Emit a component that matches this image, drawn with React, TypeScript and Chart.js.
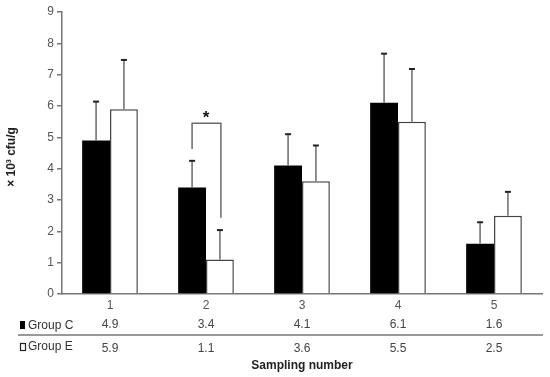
import React, { useEffect, useRef } from "react";
import { Chart, registerables } from "chart.js";

Chart.register(...registerables);

const categories = ["1", "2", "3", "4", "5"];
const groupC = [4.9, 3.4, 4.1, 6.1, 1.6];
const groupE = [5.9, 1.1, 3.6, 5.5, 2.5];
const errC = [1.24, 0.85, 1.0, 1.57, 0.69];
const errE = [1.57, 0.94, 1.14, 1.68, 0.76];
const seriesNames = ["Group C", "Group E"];
const yTicks = [0, 1, 2, 3, 4, 5, 6, 7, 8, 9];
const yTitle = "× 10³ cfu/g";
const xTitle = "Sampling number";
// significance bracket (category index 2 -> index 1), levels in data units
const sigIndex = 1;
const sigTop = 5.45;
const sigLeftBottom = 4.63;
const sigRightBottom = 2.43;
const sigMark = "*";

const FONT = "'Liberation Sans Narrow', 'Liberation Sans', Arial, sans-serif";
const FONT_B = "'Liberation Sans', Arial, sans-serif";

const extrasPlugin = {
  id: "extras",
  afterDatasetsDraw(chart: any) {
    const ctx = chart.ctx;
    const y = chart.scales.y;
    const errs = [errC, errE];
    const vals = [groupC, groupE];
    ctx.save();
    for (let d = 0; d < 2; d++) {
      const meta = chart.getDatasetMeta(d);
      meta.data.forEach((bar: any, i: number) => {
        const top = y.getPixelForValue(vals[d][i] + errs[d][i]);
        const base = y.getPixelForValue(vals[d][i]);
        ctx.strokeStyle = "#6a6a6a";
        ctx.lineWidth = 1.5;
        ctx.beginPath();
        ctx.moveTo(bar.x, base);
        ctx.lineTo(bar.x, top);
        ctx.stroke();
        ctx.strokeStyle = "#222";
        ctx.lineWidth = 2;
        ctx.beginPath();
        ctx.moveTo(bar.x - 3, top);
        ctx.lineTo(bar.x + 3, top);
        ctx.stroke();
      });
    }
    // significance bracket
    const bl = chart.getDatasetMeta(0).data[sigIndex];
    const br = chart.getDatasetMeta(1).data[sigIndex];
    const yt = y.getPixelForValue(sigTop);
    ctx.strokeStyle = "#6a6a6a";
    ctx.lineWidth = 1.5;
    ctx.beginPath();
    ctx.moveTo(bl.x, y.getPixelForValue(sigLeftBottom));
    ctx.lineTo(bl.x, yt);
    ctx.lineTo(br.x + 1, yt);
    ctx.lineTo(br.x + 1, y.getPixelForValue(sigRightBottom));
    ctx.stroke();
    ctx.fillStyle = "#111";
    ctx.font = "bold 17px " + FONT_B;
    ctx.textAlign = "center";
    ctx.textBaseline = "middle";
    ctx.fillText(sigMark, (bl.x + br.x) / 2, yt - 5);
    ctx.restore();
  },
  afterDraw(chart: any) {
    const ctx = chart.ctx;
    const x = chart.scales.x;
    const area = chart.chartArea;
    ctx.save();
    // y title
    ctx.save();
    ctx.translate(12, 157);
    ctx.rotate(-Math.PI / 2);
    ctx.fillStyle = "#222";
    ctx.font = "bold 12px " + FONT_B;
    ctx.textAlign = "center";
    ctx.textBaseline = "middle";
    ctx.fillText(yTitle, 0, 0);
    ctx.restore();
    // table
    const rowY = [325, 349];
    const vals = [groupC, groupE];
    ctx.font = "12px " + FONT;
    ctx.textBaseline = "middle";
    for (let r = 0; r < 2; r++) {
      // legend box
      if (r === 0) {
        ctx.fillStyle = "#000";
        ctx.fillRect(20, rowY[r] - 4, 5, 8);
      } else {
        ctx.strokeStyle = "#222";
        ctx.lineWidth = 1.2;
        ctx.strokeRect(20.5, rowY[r] - 5.5, 5, 7);
      }
      ctx.fillStyle = "#333";
      ctx.textAlign = "left";
      ctx.fillText(seriesNames[r], 28, rowY[r] + (r === 0 ? 1 : -2));
      ctx.fillStyle = "#444";
      ctx.textAlign = "center";
      vals[r].forEach((v, i) => {
        ctx.fillText(v.toFixed(1), x.getPixelForValue(i), rowY[r]);
      });
    }
    ctx.strokeStyle = "#777";
    ctx.lineWidth = 1.5;
    ctx.beginPath();
    ctx.moveTo(18, 335);
    ctx.lineTo(area.right + 1, 335);
    ctx.stroke();
    // x title
    ctx.fillStyle = "#222";
    ctx.font = "bold 12px " + FONT;
    ctx.textAlign = "center";
    ctx.fillText(xTitle, (area.left + area.right) / 2, 366);
    ctx.restore();
  },
};

export default function App() {
  const ref = useRef<HTMLCanvasElement>(null);
  useEffect(() => {
    document.body.style.margin = "0";
    const chart = new Chart(ref.current as HTMLCanvasElement, {
      type: "bar",
      data: {
        labels: categories,
        datasets: [
          {
            label: seriesNames[0],
            data: groupC,
            backgroundColor: "#000",
            borderColor: "#222",
            borderWidth: 0,
            categoryPercentage: 0.58,
            barPercentage: 1,
          },
          {
            label: seriesNames[1],
            data: groupE,
            backgroundColor: "#fff",
            borderColor: "#444",
            borderWidth: 1.5,
            categoryPercentage: 0.58,
            barPercentage: 1,
          },
        ],
      },
      options: {
        animation: false,
        responsive: false,
        layout: { padding: { top: 12, right: 8, left: 0, bottom: 0 } },
        plugins: { legend: { display: false }, tooltip: { enabled: false } },
        scales: {
          x: {
            grid: { display: false },
            border: { display: true, color: "#777", width: 1.5 },
            ticks: { color: "#555", font: { size: 12, family: FONT }, padding: -4 },
            afterFit: (s: any) => {
              s.height = 83;
            },
          },
          y: {
            min: 0,
            max: 9,
            afterBuildTicks: (s: any) => {
              s.ticks = yTicks.map((v) => ({ value: v }));
            },
            grid: { drawOnChartArea: false, tickLength: 5, color: "#777", lineWidth: 1.5 },
            border: { display: true, color: "#777", width: 1.5 },
            ticks: { color: "#555", font: { size: 12, family: FONT }, padding: 3 },
            afterFit: (s: any) => {
              s.width = 62;
            },
          },
        },
      },
      plugins: [extrasPlugin],
    });
    return () => chart.destroy();
  }, []);
  return (
    <div style={{ width: 550, height: 377 }}>
      <canvas ref={ref} width={550} height={377} style={{ display: "block" }} />
    </div>
  );
}
